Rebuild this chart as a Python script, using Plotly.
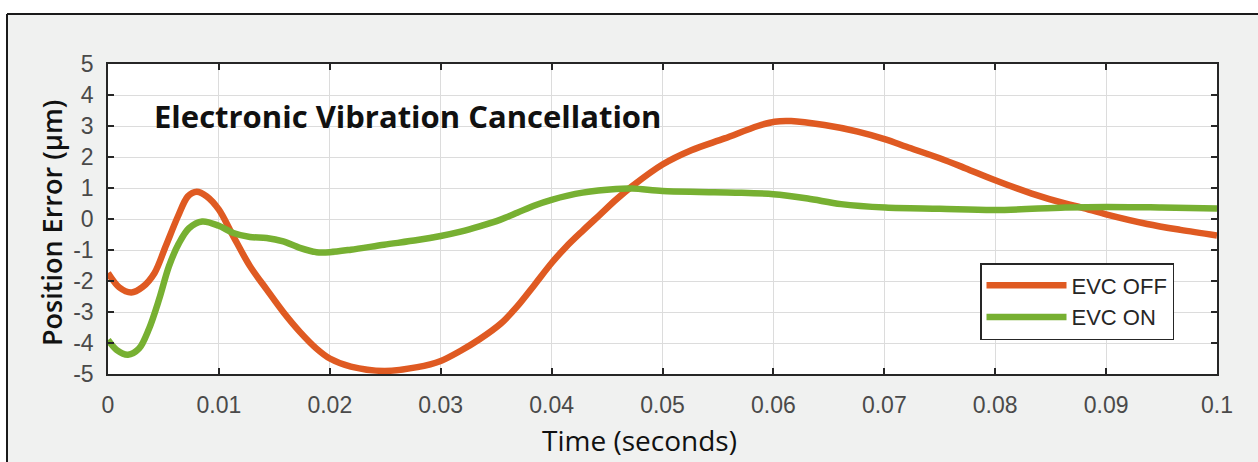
import plotly.graph_objects as go

# ---- data ----
t_off = [0, 0.001, 0.0021, 0.0031, 0.0042, 0.0052, 0.0063, 0.0072, 0.008, 0.0089,
         0.01, 0.0113, 0.0128, 0.0143, 0.0158, 0.0173, 0.0188, 0.02, 0.0219, 0.0249,
         0.0279, 0.03, 0.0318, 0.0335, 0.0354, 0.0369, 0.0384, 0.04, 0.0413, 0.0428,
         0.0443, 0.0458, 0.0473, 0.05, 0.0526, 0.0556, 0.0586, 0.0601, 0.0616, 0.0646,
         0.0676, 0.0701, 0.072, 0.075, 0.0773, 0.08, 0.0833, 0.0863, 0.0878, 0.09,
         0.0937, 0.0967, 0.1]
v_off = [-1.74, -2.2, -2.37, -2.2, -1.74, -0.88, 0.08, 0.73, 0.88, 0.73,
         0.3, -0.56, -1.52, -2.27, -3.0, -3.64, -4.18, -4.5, -4.76, -4.9,
         -4.78, -4.58, -4.25, -3.88, -3.38, -2.82, -2.15, -1.42, -0.9, -0.38,
         0.12, 0.62, 1.07, 1.76, 2.22, 2.6, 3.0, 3.14, 3.16, 3.03,
         2.82, 2.57, 2.33, 1.96, 1.64, 1.25, 0.82, 0.5, 0.37, 0.15,
         -0.16, -0.35, -0.53]

t_on = [0, 0.0008, 0.0018, 0.0028, 0.0037, 0.0046, 0.0055, 0.0064, 0.0073, 0.0085,
        0.01, 0.0113, 0.0128, 0.0143, 0.0158, 0.0173, 0.0188, 0.02, 0.0219, 0.0249,
        0.0279, 0.03, 0.0318, 0.0335, 0.0354, 0.0369, 0.0384, 0.04, 0.0428, 0.0458,
        0.0473, 0.05, 0.0533, 0.0566, 0.06, 0.0631, 0.0661, 0.0701, 0.075, 0.08,
        0.0863, 0.09, 0.095, 0.1]
v_on = [-3.9, -4.23, -4.38, -4.18, -3.54, -2.6, -1.52, -0.78, -0.3, -0.08,
        -0.22, -0.45, -0.58, -0.61, -0.72, -0.93, -1.07, -1.07, -0.99, -0.83,
        -0.68, -0.55, -0.41, -0.24, -0.02, 0.2, 0.43, 0.62, 0.85, 0.97,
        0.98, 0.9, 0.87, 0.85, 0.8, 0.66, 0.48, 0.37, 0.33, 0.29,
        0.37, 0.39, 0.37, 0.34]

series_names = ["EVC OFF", "EVC ON"]
x_tickvals = [0, 0.01, 0.02, 0.03, 0.04, 0.05, 0.06, 0.07, 0.08, 0.09, 0.1]
x_ticktext = ["0", "0.01", "0.02", "0.03", "0.04", "0.05", "0.06", "0.07", "0.08", "0.09", "0.1"]
y_tickvals = [5, 4, 3, 2, 1, 0, -1, -2, -3, -4, -5]
y_ticktext = ["5", "4", "3", "2", "1", "0", "-1", "-2", "-3", "-4", "-5"]

title_text = "Electronic Vibration Cancellation"
x_title = "Time (seconds)"
y_title = "Position Error (µm)"

ORANGE = "#DF5A22"
GREEN = "#77B032"
AXIS = "#262626"
GRID = "#dcdcdc"
TICKFONT = dict(family="Liberation Sans, Arial, sans-serif", size=23, color="#4a4a4a")
HEADFONT = "Open Sans, sans-serif"

W, H = 1258, 462
ML, MR, MT, MB = 108, 41, 64, 88
PW, PH = W - ML - MR, H - MT - MB


def px_x(p):
    return (p - ML) / PW


def px_y(p):
    return (H - MB - p) / PH


fig = go.Figure()
fig.add_trace(go.Scatter(x=t_off, y=v_off, mode="lines", name=series_names[0],
                         line=dict(color=ORANGE, width=6.5, shape="spline", smoothing=0.9)))
fig.add_trace(go.Scatter(x=t_on, y=v_on, mode="lines", name=series_names[1],
                         line=dict(color=GREEN, width=6.5, shape="spline", smoothing=0.9)))

axis_common = dict(showline=True, linecolor=AXIS, linewidth=1.5, mirror="ticks",
                   ticks="inside", ticklen=6, tickcolor=AXIS, tickwidth=1.5,
                   showgrid=True, gridcolor=GRID, gridwidth=1, zeroline=False,
                   tickfont=TICKFONT)

fig.update_xaxes(range=[0, 0.1], tickmode="array", tickvals=x_tickvals, ticktext=x_ticktext,
                 ticklabelstandoff=10, **axis_common)
fig.update_yaxes(range=[-5, 5], tickmode="array", tickvals=y_tickvals, ticktext=y_ticktext,
                 ticklabelstandoff=8, **axis_common)

shapes = [
    dict(type="rect", xref="paper", yref="paper", x0=-0.2, x1=1.2, y0=px_y(14), y1=px_y(-20),
         fillcolor="white", line=dict(width=0), layer="below"),
    dict(type="rect", xref="paper", yref="paper", x0=px_x(-20), x1=px_x(7), y0=px_y(500), y1=px_y(-20),
         fillcolor="white", line=dict(width=0), layer="below"),
    dict(type="line", xref="paper", yref="paper", x0=px_x(7), x1=px_x(1270), y0=px_y(14), y1=px_y(14),
         line=dict(color="#1a1a1a", width=2)),
    dict(type="line", xref="paper", yref="paper", x0=px_x(7), x1=px_x(7), y0=px_y(14), y1=px_y(480),
         line=dict(color="#1a1a1a", width=2)),
]

annotations = [
    dict(text=title_text, xref="paper", yref="paper", x=px_x(152), y=px_y(116),
         xanchor="left", yanchor="middle", showarrow=False,
         font=dict(family=HEADFONT, size=31, color="#111111", weight=700)),
    dict(text=x_title, xref="paper", yref="paper", x=px_x(639), y=px_y(440),
         xanchor="center", yanchor="middle", showarrow=False,
         font=dict(family=HEADFONT, size=28, color="#111111", weight=500)),
    dict(text=y_title, xref="paper", yref="paper", x=px_x(51), y=px_y(223),
         xanchor="center", yanchor="middle", showarrow=False, textangle=-90,
         font=dict(family=HEADFONT, size=27, color="#111111", weight=600)),
]

fig.update_layout(
    width=W, height=H,
    margin=dict(l=ML, r=MR, t=MT, b=MB, pad=0),
    paper_bgcolor="#f0f1f0",
    plot_bgcolor="white",
    shapes=shapes,
    annotations=annotations,
    showlegend=True,
    legend=dict(x=px_x(980), y=px_y(263), xanchor="left", yanchor="top",
                bgcolor="white", bordercolor=AXIS, borderwidth=1.5,
                font=dict(family="Liberation Sans, Arial, sans-serif", size=22, color="#262626"),
                itemwidth=80, tracegroupgap=0),
)

fig.write_html("out.html", config={"displayModeBar": False},
               post_script="document.body.style.margin='0';document.body.style.padding='0';")
